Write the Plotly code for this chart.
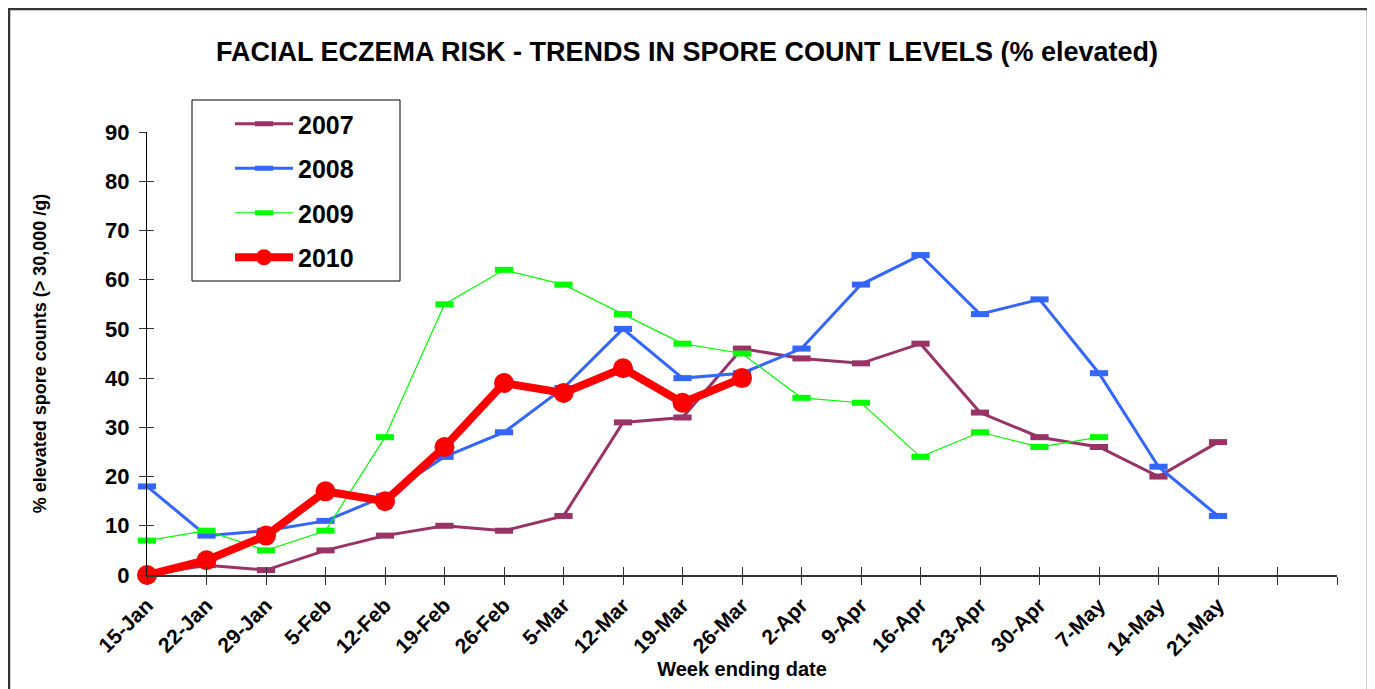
import plotly.graph_objects as go

weeks = ["15-Jan", "22-Jan", "29-Jan", "5-Feb", "12-Feb", "19-Feb", "26-Feb", "5-Mar",
         "12-Mar", "19-Mar", "26-Mar", "2-Apr", "9-Apr", "16-Apr", "23-Apr", "30-Apr",
         "7-May", "14-May", "21-May", "", ""]
y2007 = [0, 2, 1, 5, 8, 10, 9, 12, 31, 32, 46, 44, 43, 47, 33, 28, 26, 20, 27]
y2008 = [18, 8, 9, 11, 16, 24, 29, 38, 50, 40, 41, 46, 59, 65, 53, 56, 41, 22, 12]
y2009 = [7, 9, 5, 9, 28, 55, 62, 59, 53, 47, 45, 36, 35, 24, 29, 26, 28]
y2010 = [0, 3, 8, 17, 15, 26, 39, 37, 42, 35, 40]
y_ticks = [0, 10, 20, 30, 40, 50, 60, 70, 80, 90]

FONT = "Liberation Sans, Arial, sans-serif"
xs = list(range(len(weeks)))

fig = go.Figure()

def small_series(name, vals, color, width):
    fig.add_trace(go.Scatter(
        x=xs[:len(vals)], y=vals, name=f"<b>{name}</b>", mode="lines+markers",
        line=dict(color=color, width=width),
        marker=dict(symbol="line-ew", size=13, color=color,
                    line=dict(color=color, width=6)),
        cliponaxis=False, legendgroup=name))

small_series("2007", y2007, "#993366", 3)
small_series("2008", y2008, "#3366FF", 3)
small_series("2009", y2009, "#00FF00", 1.2)
fig.add_trace(go.Scatter(
    x=xs[:len(y2010)], y=y2010, name="<b>2010</b>", mode="lines+markers",
    line=dict(color="#FF0000", width=8),
    marker=dict(symbol="circle", size=20, color="#FF0000"),
    cliponaxis=False, legendgroup="2010"))

# invisible trace carrying the secondary (inside) tick axes
fig.add_trace(go.Scatter(x=[0], y=[0], xaxis="x2", yaxis="y2", mode="markers",
                         marker=dict(opacity=0), showlegend=False, hoverinfo="skip"))

OFF = 8  # page body margin
L, R, T, B = 147 - OFF, 38 + OFF, 132 - OFF, 114 + OFF
W, H = 1375, 689
pw, ph = W - L - R, H - T - B

def px_x(px):  # screenshot px -> paper
    return (px - OFF - L) / pw

def px_y(py):
    return (H - B - (py - OFF)) / ph

fig.update_layout(
    width=W, height=H,
    margin=dict(l=L, r=R, t=T, b=B),
    paper_bgcolor="white", plot_bgcolor="white",
    font=dict(family=FONT, color="black"),
    title=dict(text="<b>FACIAL ECZEMA RISK - TRENDS IN SPORE COUNT LEVELS (% elevated)</b>",
               x=px_x(687), xref="paper", xanchor="center",
               y=1 - (52 - OFF) / H, yref="container", yanchor="middle",
               font=dict(size=27, family=FONT)),
    xaxis=dict(range=[0, 20], tickmode="array", tickvals=xs, ticktext=[f"<b>{w}</b>" for w in weeks],
               tickangle=-45, tickfont=dict(size=21, family=FONT),
               showgrid=False, zeroline=False, showline=True, linecolor="#333", linewidth=1.5,
               ticks="outside", ticklen=8, tickcolor="#333", tickwidth=1,
               title=dict(text="<b>Week ending date</b>", font=dict(size=20, family=FONT), standoff=0)),
    yaxis=dict(range=[0, 90], tickmode="array", tickvals=y_ticks, ticktext=[f"<b>{v}</b>" for v in y_ticks],
               tickfont=dict(size=22, family=FONT), ticklabelstandoff=5,
               showgrid=False, zeroline=False, showline=True, linecolor="black", linewidth=1,
               ticks="outside", ticklen=7, tickcolor="#333", tickwidth=1,
               title=dict(text="<b>% elevated spore counts (> 30,000 /g)</b>",
                          font=dict(size=18, family=FONT), standoff=53)),
    xaxis2=dict(range=[0, 20], overlaying="x", anchor="y", tickmode="array", tickvals=xs,
                showticklabels=False, showgrid=False, zeroline=False, showline=False,
                ticks="inside", ticklen=8, tickcolor="#333", tickwidth=1, side="bottom"),
    yaxis2=dict(range=[0, 90], overlaying="y", anchor="x", tickmode="array", tickvals=y_ticks,
                showticklabels=False, showgrid=False, zeroline=False, showline=False,
                ticks="inside", ticklen=7, tickcolor="#333", tickwidth=1, side="left"),
    legend=dict(x=px_x(230), y=px_y(101), xanchor="left", yanchor="top",
                bgcolor="rgba(0,0,0,0)", borderwidth=0,
                font=dict(size=25, family=FONT), itemwidth=58,
                traceorder="grouped", tracegroupgap=9),
    shapes=[
        dict(type="rect", xref="paper", yref="paper",
             x0=px_x(192), x1=px_x(400), y0=px_y(281), y1=px_y(100),
             line=dict(color="black", width=1), fillcolor="white", layer="below"),
        dict(type="rect", xref="paper", yref="paper",
             x0=px_x(OFF + 1), x1=px_x(1368), y0=px_y(720), y1=px_y(OFF + 1),
             line=dict(color="#333", width=2.5), fillcolor="rgba(0,0,0,0)", layer="below"),
    ],
    showlegend=True,
)

fig.write_html("out.html")
